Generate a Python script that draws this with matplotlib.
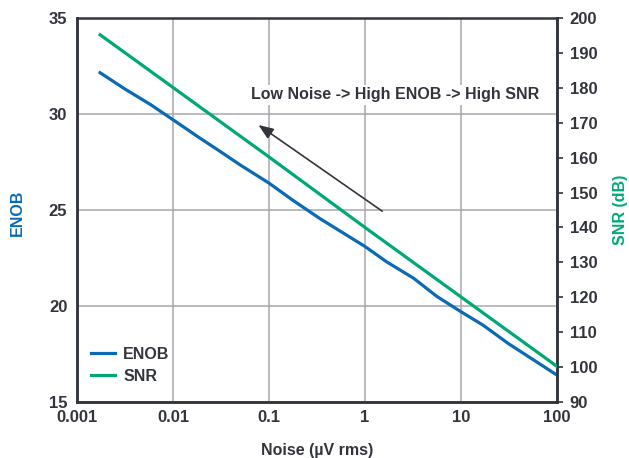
import numpy as np
import matplotlib
matplotlib.use("Agg")
import matplotlib.pyplot as plt

plt.rcParams['font.family'] = ['Liberation Sans', 'DejaVu Sans']
plt.rcParams['font.weight'] = 'bold'

# values
enob_noise = [0.00174, 0.00316, 0.0058, 0.01, 0.019, 0.031, 0.05, 0.1, 0.178, 0.34,
              1, 1.68, 3.2, 5.6, 10, 17, 31, 100]
enob = [32.15, 31.3, 30.5, 29.7, 28.75, 28.05, 27.35, 26.4, 25.5, 24.55,
        23.1, 22.3, 21.45, 20.5, 19.7, 19.0, 18.05, 16.4]
snr_noise = [0.00174, 0.01, 0.1, 1, 10, 100]
snr = [195.2, 180.1, 160.2, 140.0, 120.1, 100.2]

x_ticks = [0.001, 0.01, 0.1, 1, 10, 100]
x_labels = ['0.001', '0.01', '0.1', '1', '10', '100']
enob_ticks = [15, 20, 25, 30, 35]
snr_ticks = [90, 100, 110, 120, 130, 140, 150, 160, 170, 180, 190, 200]

blue = '#0a6ab6'
green = '#00a878'
dark = '#33353d'
grid_col = '#a8a8ae'

fig = plt.figure(figsize=(6.29, 4.58), dpi=100)
ax = fig.add_axes([77/629, 56/458, 480/629, 384/458])
ax2 = ax.twinx()

l1, = ax.plot(enob_noise, enob, color=blue, lw=2.3, label='ENOB', zorder=3)
l2, = ax2.plot(snr_noise, snr, color=green, lw=2.3, label='SNR', zorder=3)

ax.set_xscale('log')
ax.set_xlim(0.001, 100)
ax.set_ylim(15, 35)
ax2.set_ylim(90, 200)
ax.set_xticks(x_ticks)
ax.set_xticklabels(x_labels)
ax.minorticks_off()
ax.set_yticks(enob_ticks)
ax2.set_yticks(snr_ticks)

ax.grid(True, color=grid_col, lw=1.1)
ax.set_axisbelow(True)

for a in (ax, ax2):
    for s in a.spines.values():
        s.set_color(dark)
        s.set_linewidth(1.8)
ax2.spines['top'].set_visible(False)

ax.tick_params(axis='x', length=0, pad=6, labelsize=12, labelcolor=dark)
ax.tick_params(axis='x', which='minor', length=0)
ax.tick_params(axis='y', length=0, pad=7, labelsize=12, labelcolor=dark)
ax2.tick_params(axis='y', length=4, width=1.2, color=dark, pad=5, labelsize=12, labelcolor=dark)

# axis titles placed in figure pixels
fig.text(317/629, 1 - 450/458, 'Noise (\u00b5V rms)', fontsize=11.5, color=dark,
         fontweight='bold', ha='center', va='center')
fig.text(17/629, 1 - 213/458, 'ENOB', fontsize=11.5, color=blue, fontweight='bold',
         ha='center', va='center', rotation=90)
fig.text(620/629, 1 - 210/458, 'SNR (dB)', fontsize=11.5, color=green, fontweight='bold',
         ha='center', va='center', rotation=90)

ax.annotate('', xy=(0.0775, 29.43), xytext=(1.51, 24.94),
            arrowprops=dict(arrowstyle='-|>,head_length=0.9,head_width=0.35',
                            color=dark, lw=1.2, shrinkA=0, shrinkB=0),
            zorder=4)
ax.text(0.0645, 31.0, 'Low Noise -> High ENOB -> High SNR', fontsize=11.5,
        color=dark, fontweight='bold', va='center', ha='left', zorder=4,
        bbox=dict(facecolor='white', edgecolor='none', pad=2))

ax2.legend(handles=[l1, l2], loc='lower left', frameon=False, fontsize=11.5,
           handlelength=1.5, handletextpad=0.5, labelspacing=0.45,
           bbox_to_anchor=(0.0, 0.01), labelcolor=dark)

fig.savefig('out.png', dpi=100)
